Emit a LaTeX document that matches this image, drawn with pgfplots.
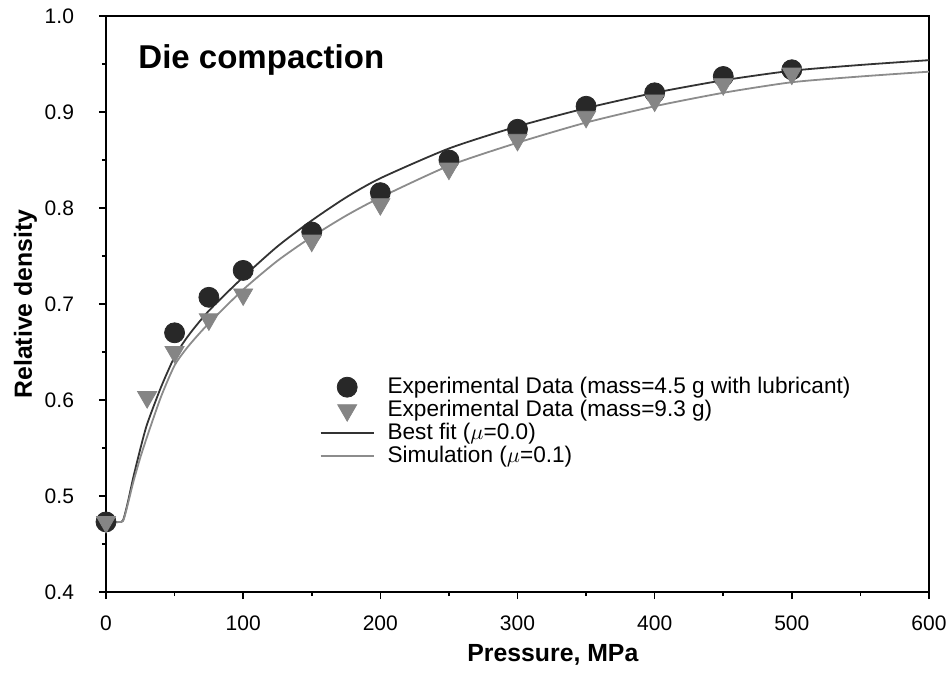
\documentclass[border=0pt]{standalone}
\usepackage{fontspec}
\setmainfont{Liberation Sans}
\usepackage{pgfplots}
\pgfplotsset{compat=1.18}
\definecolor{dotdark}{HTML}{282828}
\definecolor{trigray}{HTML}{858585}
\definecolor{fitdark}{HTML}{333333}
\definecolor{simgray}{HTML}{8C8C8C}
\begin{document}
\begin{tikzpicture}
\begin{axis}[
  width=411.5pt, height=288pt, scale only axis,
  xmin=0, xmax=600, ymin=0.4, ymax=1.0,
  xtick={0,100,...,600}, ytick={0.4,0.5,...,1.0},
  minor xtick={50,150,...,550}, minor ytick={0.45,0.55,...,0.95},
  yticklabel={\pgfmathprintnumber[fixed,fixed zerofill,precision=1,assume math mode=true]{\tick}},
  xticklabel={\pgfmathprintnumber[assume math mode=true]{\tick}},
  yticklabel shift=9pt,
  xticklabel shift=5pt,
  tick label style={font=\fontsize{10.5}{12}\selectfont},
  axis x line*=bottom, axis y line*=left,
  tick align=outside,
  major tick length=3.5pt, minor tick length=2pt,
  every tick/.style={black, line width=0.8pt},
  axis line style={line width=1pt},
  clip=false,
  xlabel={\bfseries Pressure, MPa},
  ylabel={\bfseries Relative density},
  label style={font=\fontsize{12.4}{14}\selectfont},
  xlabel style={at={(ticklabel cs:0.543)}, yshift=0pt},
  ylabel style={yshift=-3pt},
  legend style={draw=none, fill=none, at={(0.252,0.387)}, anchor=north west,
    font=\fontsize{11.3}{12}\selectfont, row sep=-2.2pt,
    /tikz/every odd column/.append style={column sep=4.5pt}},
  legend cell align=left,
  legend image code/.code={\draw[mark repeat=2,mark phase=2,#1]
    plot coordinates {(0pt,0pt) (13.25pt,0pt) (26.5pt,0pt)};},
]
\coordinate (sw) at (rel axis cs:0,0);
\coordinate (ne) at (rel axis cs:1,1);
\draw[line width=1pt] (rel axis cs:0,1) -- (rel axis cs:1,1) -- (rel axis cs:1,0);

\addplot[only marks, mark=*, mark size=5pt, mark options={draw=dotdark, fill=dotdark}]
coordinates {(0,0.473) (50,0.670) (75,0.707) (100,0.735) (150,0.775) (200,0.816)
 (250,0.850) (300,0.882) (350,0.906) (400,0.920) (450,0.937) (500,0.944)};
\addplot[only marks, mark=triangle*, mark size=5.5pt,
  mark options={rotate=180, draw=trigray, fill=trigray}]
coordinates {(0,0.473) (30,0.603) (50,0.650) (75,0.684) (100,0.710) (150,0.766)
 (200,0.804) (250,0.841) (300,0.871) (350,0.895) (400,0.912) (450,0.929) (500,0.940)};
\addplot[fitdark, line width=0.9pt, no marks, smooth, tension=0.4]
coordinates {(0,0.473) (11,0.473) (13,0.477) (16,0.494) (20,0.520) (25,0.549) (30,0.575)
 (40,0.613) (50,0.645) (60,0.667) (75,0.693) (100,0.728) (125,0.760) (150,0.787)
 (175,0.811) (200,0.831) (250,0.862) (300,0.885) (350,0.904) (400,0.920) (450,0.933)
 (500,0.943) (550,0.949) (600,0.954)};
\addplot[simgray, line width=0.9pt, no marks, smooth, tension=0.4]
coordinates {(0,0.473) (11,0.473) (13,0.476) (16,0.492) (20,0.515) (25,0.540) (30,0.562)
 (40,0.603) (50,0.636) (60,0.656) (75,0.680) (100,0.715) (125,0.745) (150,0.770)
 (175,0.792) (200,0.811) (250,0.844) (300,0.868) (350,0.889) (400,0.906) (450,0.920)
 (500,0.931) (550,0.937) (600,0.942)};
\legend{Experimental Data (mass=4.5 g with lubricant),
  Experimental Data (mass=9.3 g),
  Best fit ($\mu$=0.0),
  Simulation ($\mu$=0.1)}
\node[anchor=west, inner sep=0pt, font=\bfseries\fontsize{16.5}{19}\selectfont]
  at (rel axis cs:0.039,0.923) {Die compaction};
\end{axis}
\pgfresetboundingbox
\path[use as bounding box] ([xshift=-53pt,yshift=-49.5pt]sw) rectangle ([xshift=10pt,yshift=8pt]ne);
\end{tikzpicture}
\end{document}
